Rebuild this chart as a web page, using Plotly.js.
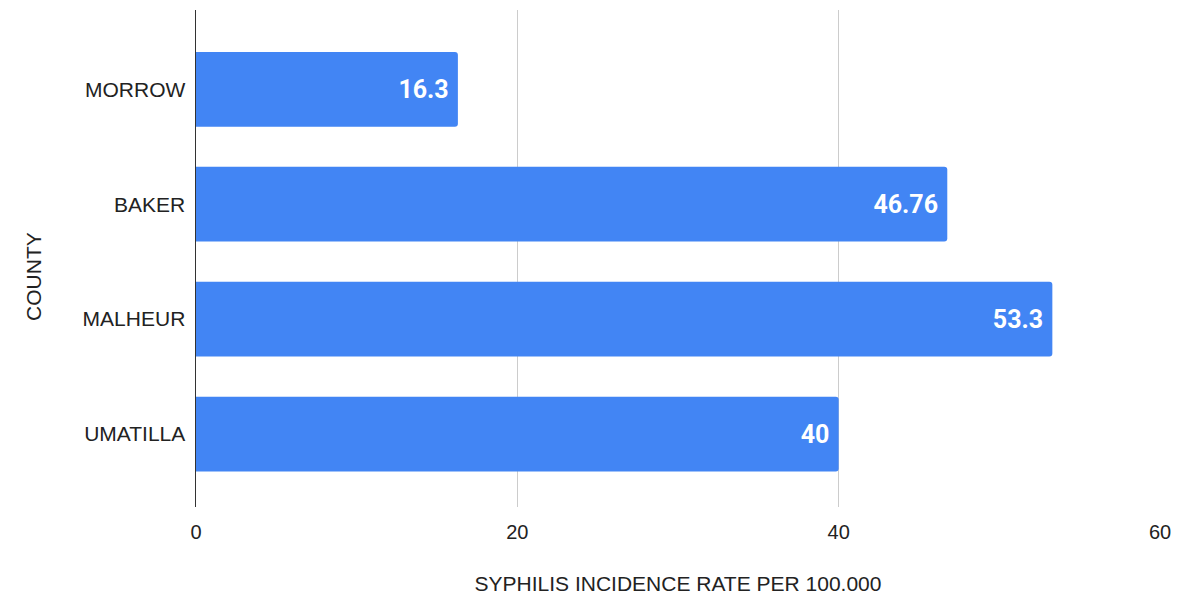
<!DOCTYPE html>
<html>
<head>
<meta charset="utf-8">
<script src="https://cdn.plot.ly/plotly-3.0.1.min.js"></script>
<style>html,body{margin:0;padding:0;background:#fff;}#chart{width:1184px;height:599px;}</style>
</head>
<body>
<div id="chart"></div>
<script>
var counties = ["MORROW", "BAKER", "MALHEUR", "UMATILLA"];
var rates = [16.3, 46.76, 53.3, 40];
var xTicks = [0, 20, 40, 60];

var trace = {
  type: "bar",
  orientation: "h",
  y: counties,
  x: rates,
  text: rates.map(function (v) { return String(v) + "\u00a0"; }),
  textposition: "inside",
  insidetextanchor: "end",
  textangle: 0,
  textfont: {family: "Roboto, Arial, sans-serif", size: 25, color: "#ffffff", weight: "bold"},
  marker: {color: "#4285F4", cornerradius: 3},
  hoverinfo: "x+y",
  cliponaxis: false
};

var layout = {
  width: 1184,
  height: 599,
  margin: {l: 196, r: 24, t: 10, b: 92},
  paper_bgcolor: "#ffffff",
  plot_bgcolor: "#ffffff",
  bargap: 0.35,
  showlegend: false,
  font: {family: "'Liberation Sans', Arial, sans-serif", size: 21, color: "#222222"},
  xaxis: {
    range: [0, 60],
    tickvals: xTicks,
    ticktext: xTicks.map(String),
    showgrid: true,
    gridcolor: "#cccccc",
    gridwidth: 1,
    zeroline: false,
    showline: false,
    ticks: "",
    ticklabelstandoff: 11,
    tickfont: {size: 20, color: "#222222"},
    title: {text: "SYPHILIS INCIDENCE RATE PER 100.000", font: {size: 21, color: "#222222"}, standoff: 34}
  },
  yaxis: {
    type: "category",
    range: [3.635, -0.69],
    showgrid: false,
    zeroline: false,
    showline: true,
    linecolor: "#333333",
    linewidth: 1.5,
    ticks: "",
    ticklabelstandoff: 5,
    tickfont: {size: 21, color: "#222222"}
  },
  annotations: [{
    text: "COUNTY",
    xref: "paper", yref: "paper",
    x: -0.168, y: 0.463,
    xanchor: "center", yanchor: "middle",
    textangle: -90,
    showarrow: false,
    font: {size: 21, color: "#222222"}
  }]
};

Plotly.newPlot("chart", [trace], layout, {displayModeBar: false, staticPlot: true});
</script>
</body>
</html>
